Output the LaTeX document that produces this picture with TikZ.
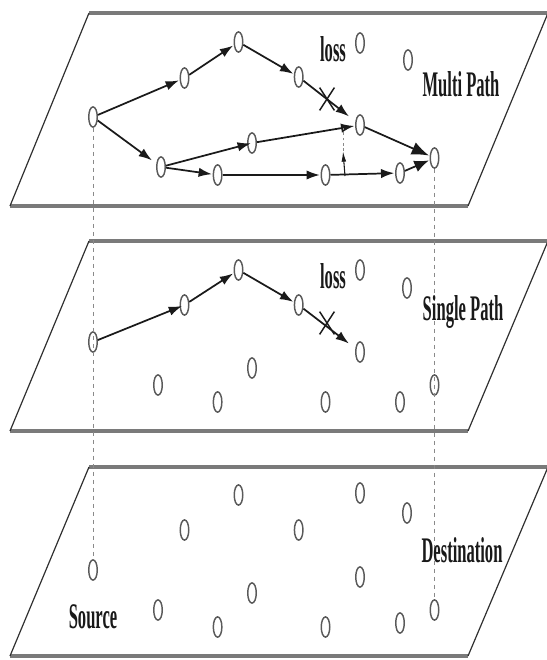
\documentclass[tikz,border=0pt]{standalone}
\usepackage{fontspec}
\setmainfont{Liberation Serif}
\usepackage{graphicx}
\usetikzlibrary{arrows.meta,shapes.geometric,shapes.misc}

\definecolor{nodegray}{HTML}{5A5A5A}
\definecolor{arrowdark}{HTML}{1A1A1A}
\definecolor{planegray}{HTML}{7A7A7A}
\definecolor{sidedark}{HTML}{303030}
\definecolor{guidegray}{HTML}{8A8A8A}

% condensed lettering
\newcommand{\narrowtext}[1]{\scalebox{0.46}[1]{\bfseries #1}}

\begin{document}
\begin{tikzpicture}[x=0.75pt,y=-0.75pt,
  station/.style={ellipse,draw=nodegray,line width=1.1pt,minimum width=6.4pt,minimum height=15.2pt,inner sep=0pt},
  hop/.style={draw=arrowdark,line width=1.3pt,-{Latex[length=10pt,width=7pt]},shorten >=0.5pt},
  lostmark/.style={cross out,draw=arrowdark,line width=1.1pt,minimum width=10pt,minimum height=16pt,inner sep=0pt},
  rim/.style={draw=planegray,line width=2.4pt},
  planeside/.style={draw=sidedark,line width=0.9pt},
  guide/.style={draw=guidegray,line width=0.6pt,dash pattern=on 3pt off 3pt},
  planetext/.style={font=\fontsize{27}{29}\selectfont,text=black!90,inner sep=0pt,anchor=base}
]
\useasboundingbox (0,0) rectangle (546,660);

% the three layers (parallelograms)
\foreach \yt/\yb in {13/206, 241/431, 467/656}{
  \draw[rim] (89,\yt) -- (552,\yt);
  \draw[rim] (10,\yb) -- (468,\yb);
  \draw[planeside] (10,\yb) -- (89,\yt);
  \draw[planeside] (468,\yb) -- (548,\yt);
}

% stations on the multi-path layer
\foreach \n/\x/\y in {0/93/117, 1/184.5/78, 2/238.5/42, 3/298.7/77, 4/360/43, 5/408/60,
  6/360/125, 7/161/167, 8/252/143, 9/217.6/175, 10/325.5/175, 11/400/173, 12/434.5/158}
  \node[station] (m\n) at (\x,\y) {};

% stations on the single-path layer
\foreach \n/\x/\y in {0/93/342, 1/184.5/305, 2/238.5/270, 3/298.7/305, 4/360/270, 5/407/288,
  6/360/352, 7/158/385, 8/252/368, 9/217.6/402, 10/325.5/402, 11/400/402, 12/434.5/385}
  \node[station] (s\n) at (\x,\y) {};

% stations on the bottom layer
\foreach \n/\x/\y in {0/93/570, 1/184.5/530, 2/238.5/495, 3/298.7/530, 4/360/493, 5/407/513,
  6/360/577, 7/158/610, 8/252/593, 9/217.6/627, 10/325.5/627, 11/400/623, 12/434.5/610}
  \node[station] (d\n) at (\x,\y) {};

% vertical guides from source and destination
\draw[guide] (m0.south) -- (d0.north);
\draw[guide] (m12.south) -- (d12.north);

% multi-path routes
\draw[hop] (m0) -- (m1);
\draw[hop] (m1) -- (m2);
\draw[hop] (m2) -- (m3);
\draw[hop,shorten >=6pt] (m3) -- (m6);
\draw[hop,shorten >=4pt] (m0) -- (m7);
\draw[hop,shorten >=-3pt] (m7) -- (m8);
\draw[hop] (m8) -- (m6);
\draw[hop] (m7) -- (m9);
\draw[hop] (m9) -- (m10);
\draw[hop] (m10) -- (m11);
\draw[hop,-{Latex[length=11pt,width=9pt]}] (m11) -- (m12);
\draw[hop,-{Latex[length=13pt,width=10pt]}] (m6) -- (m12);

% local repair towards the merge point
\coordinate (r1) at (345,176);
\coordinate (r2) at (343,151);
\coordinate (r3) at (343,128);
\draw[draw=guidegray,line width=0.7pt,dash pattern=on 2pt off 2pt] (r2) -- (r3);
\draw[draw=arrowdark,line width=0.8pt,-{Latex[length=8pt,width=3.5pt]}] (r1) -- (r2);

\node[lostmark] (x1) at (327,99) {};
\node[planetext] (loss1) at (333,62) {\narrowtext{loss}};
\node[planetext] (multi) at (461,97) {\narrowtext{Multi Path}};

% single-path route
\draw[hop,shorten >=-2pt] (s0) -- (s1);
\draw[hop] (s1) -- (s2);
\draw[hop] (s2) -- (s3);
\draw[hop,shorten >=6pt] (s3) -- (s6);
\node[lostmark] (x2) at (327,323) {};
\node[planetext] (loss2) at (333,288) {\narrowtext{loss}};
\node[planetext] (single) at (463,320) {\narrowtext{Single Path}};

% bottom layer labels
\node[planetext] (dest) at (462,562) {\narrowtext{Destination}};
\node[planetext] (src) at (93,628) {\narrowtext{Source}};
\end{tikzpicture}
\end{document}
